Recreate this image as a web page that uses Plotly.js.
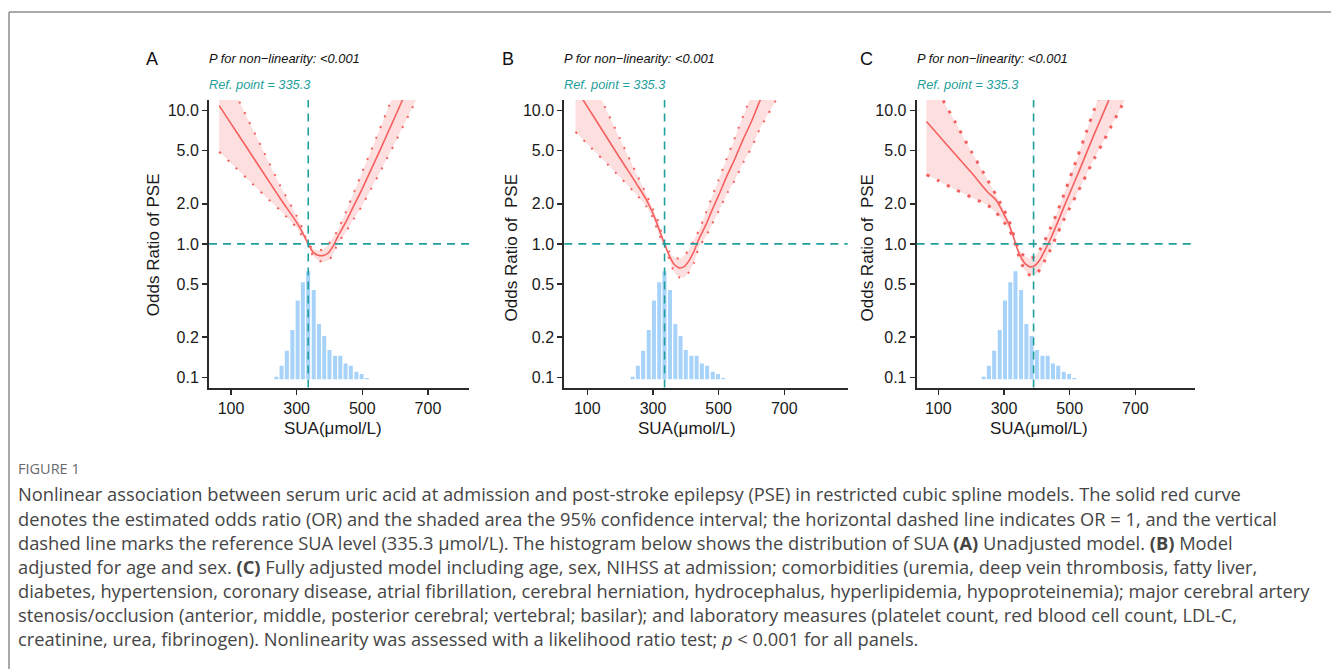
<!DOCTYPE html>
<html><head><meta charset="utf-8">
<script src="https://cdn.plot.ly/plotly-3.0.1.min.js"></script>
<style>html,body{margin:0;padding:0;background:#fff}#chart{width:1331px;height:669px}</style>
</head><body><div id="chart"></div>
<script>
const W = 1331, H = 669;

// ---------- data ----------
const panelLetters = ['A', 'B', 'C'];
const pText = 'P for non\u2212linearity: &lt;0.001';
const refText = 'Ref. point = 335.3';
const refX = [335.3, 335.3, 390];          // vertical dashed line positions as drawn
const refOR = 1;                            // horizontal dashed line
const xTitle = 'SUA(\u03bcmol/L)';
const yTitles = ['Odds Ratio of PSE', 'Odds Ratio of\u00a0\u00a0PSE', 'Odds Ratio of\u00a0\u00a0PSE'];
const xTickVals = [100, 300, 500, 700];
const yTickVals = [0.1, 0.2, 0.5, 1, 2, 5, 10];
const yTickText = ['0.1', '0.2', '0.5', '1.0', '2.0', '5.0', '10.0'];

// histogram of SUA (bar centres and top heights on the OR scale)
const histX = [238, 254, 270, 287, 303, 319, 335, 352, 368, 384, 400, 417, 433, 449, 465, 482, 498, 514];
const histTop = [0.101, 0.122, 0.158, 0.226, 0.376, 0.516, 0.624, 0.452, 0.251, 0.204, 0.160, 0.145, 0.145, 0.127, 0.122, 0.110, 0.106, 0.099];
const histBase = 0.0966;

// Panel A: unadjusted
const xA = [64, 100, 150, 200, 250, 300, 320, 335, 350, 365, 380, 395, 410, 425, 450, 475, 500, 525, 550, 575, 600, 625, 650, 675];
const orA = [10.89, 7.98, 5.19, 3.37, 2.19, 1.45, 1.19, 1.0, 0.867, 0.822, 0.817, 0.851, 0.955, 1.13, 1.46, 1.95, 2.60, 3.53, 4.79, 6.58, 9.02, 12.4, 17.0, 23.3];
const upA = [23.8, 15.7, 8.75, 4.89, 2.73, 1.62, 1.26, 1.0, 0.923, 0.891, 0.912, 0.977, 1.11, 1.26, 1.74, 2.45, 3.47, 4.90, 6.92, 9.89, 14.1, 20.0, 28.2, 39.8];
const loA = [4.90, 4.03, 3.07, 2.33, 1.78, 1.32, 1.12, 1.0, 0.813, 0.759, 0.733, 0.750, 0.822, 1.01, 1.23, 1.55, 1.95, 2.54, 3.31, 4.37, 5.75, 7.67, 10.2, 13.6];

// Panel B: adjusted for age and sex
const xB = [64, 100, 150, 200, 250, 280, 300, 320, 335, 350, 365, 380, 395, 410, 425, 440, 460, 480, 500, 525, 550, 575, 600, 625, 650, 675, 700];
const orB = [14.8, 10.7, 6.84, 4.37, 2.82, 2.14, 1.69, 1.26, 1.0, 0.813, 0.700, 0.661, 0.676, 0.750, 0.881, 1.09, 1.37, 1.79, 2.31, 3.22, 4.37, 6.10, 8.27, 11.7, 15.8, 21.6, 29.9];
const upB = [30.9, 20.2, 11.1, 6.10, 3.35, 2.34, 1.82, 1.38, 1.0, 0.871, 0.794, 0.776, 0.813, 0.912, 1.07, 1.26, 1.68, 2.26, 3.02, 4.37, 6.31, 9.12, 13.0, 18.8, 26.9, 38.9, 56.2];
const loB = [6.92, 5.62, 4.22, 3.16, 2.34, 1.91, 1.57, 1.15, 1.0, 0.759, 0.617, 0.562, 0.562, 0.617, 0.724, 0.944, 1.12, 1.41, 1.76, 2.37, 3.02, 4.07, 5.25, 7.24, 9.33, 12.0, 15.8];

// Panel C: fully adjusted
const xC = [64, 100, 150, 200, 250, 275, 290, 300, 315, 325, 335, 345, 355, 365, 380, 395, 410, 425, 440, 460, 480, 500, 525, 550, 575, 600, 625, 650, 675, 700];
const orC = [8.26, 6.55, 4.74, 3.44, 2.45, 2.14, 1.86, 1.66, 1.40, 1.20, 1.01, 0.861, 0.767, 0.708, 0.673, 0.692, 0.767, 0.902, 1.07, 1.39, 1.83, 2.40, 3.35, 4.73, 6.68, 9.28, 13.0, 18.1, 25.6, 35.7];
const upC = [20.0, 13.8, 8.32, 4.95, 3.02, 2.34, 2.00, 1.80, 1.50, 1.26, 1.05, 0.912, 0.841, 0.804, 0.776, 0.813, 0.912, 1.07, 1.29, 1.68, 2.26, 3.09, 4.57, 6.84, 10.2, 15.1, 22.4, 33.1, 50.1, 74.1];
const loC = [3.30, 2.98, 2.57, 2.24, 1.95, 1.72, 1.58, 1.46, 1.29, 1.15, 0.977, 0.813, 0.700, 0.624, 0.582, 0.589, 0.646, 0.759, 0.891, 1.15, 1.48, 1.86, 2.45, 3.27, 4.37, 5.69, 7.50, 9.89, 13.0, 17.2];

const captionHead = 'FIGURE 1';
const captionLines = [
  'Nonlinear association between serum uric acid at admission and post-stroke epilepsy (PSE) in restricted cubic spline models. The solid red curve',
  'denotes the estimated odds ratio (OR) and the shaded area the 95% confidence interval; the horizontal dashed line indicates OR = 1, and the vertical',
  'dashed line marks the reference SUA level (335.3 \u03bcmol/L). The histogram below shows the distribution of SUA <b>(A)</b> Unadjusted model. <b>(B)</b> Model',
  'adjusted for age and sex. <b>(C)</b> Fully adjusted model including age, sex, NIHSS at admission; comorbidities (uremia, deep vein thrombosis, fatty liver,',
  'diabetes, hypertension, coronary disease, atrial fibrillation, cerebral herniation, hydrocephalus, hyperlipidemia, hypoproteinemia); major cerebral artery',
  'stenosis/occlusion (anterior, middle, posterior cerebral; vertebral; basilar); and laboratory measures (platelet count, red blood cell count, LDL-C,',
  'creatinine, urea, fibrinogen). Nonlinearity was assessed with a likelihood ratio test; <i>p</i> &lt; 0.001 for all panels.'
];

// ---------- styling / geometry ----------
const RED = '#F5605F', FILL = 'rgba(245,96,95,0.2)', TEAL = '#1F9F9B', BLUE = '#A7D3FA', AX = '#2a2a2a';
const FONT = 'Liberation Sans, Arial, Helvetica, sans-serif';
const curves = [[xA, orA, upA, loA], [xB, orB, upB, loB], [xC, orC, upC, loC]];
// plot boxes in pixels: [left, right], top, bottom
const boxes = [[209, 469], [564.3, 847.7], [916.7, 1195]];
const xRanges = [[33, 825], [29.9, 893.2], [34.2, 881.4]];
const topPx = 100, botPx = 387.5;
const yRange = [-1.0765, 1.0788];
const dotPat = ['2px,9.5px', '2px,9.3px', '3px,8.5px'];
const dotW = [2, 2, 3];
const yTitleX = [153.7, 511.7, 867], yTitleY = [244.5, 247.7, 247.5];
const xTitleX = [333.3, 687, 1039.2];
const letterX = [152, 508, 866];

const px = v => v / W, py = v => 1 - v / H;

const traces = [];
const layout = {
  width: W, height: H, autosize: false,
  margin: {l: 0, r: 0, t: 0, b: 0, pad: 0},
  paper_bgcolor: '#fff', plot_bgcolor: 'rgba(0,0,0,0)',
  showlegend: false, hovermode: false,
  font: {family: FONT, color: '#1a1a1a'},
  shapes: [], annotations: []
};

for (let i = 0; i < 3; i++) {
  const xa = i === 0 ? 'x' : 'x' + (i + 1), ya = i === 0 ? 'y' : 'y' + (i + 1);
  const [xs, orv, up, lo] = curves[i];
  traces.push({type: 'bar', x: histX, y: histTop.map(t => t - histBase), base: histBase, width: 12.2,
    marker: {color: BLUE, line: {width: 0}}, xaxis: xa, yaxis: ya});
  traces.push({type: 'scatter', mode: 'lines', x: xs, y: lo, xaxis: xa, yaxis: ya,
    line: {color: RED, width: dotW[i], dash: dotPat[i], shape: 'spline', smoothing: 0.8}});
  traces.push({type: 'scatter', mode: 'lines', x: xs, y: up, xaxis: xa, yaxis: ya, fill: 'tonexty', fillcolor: FILL,
    line: {color: RED, width: dotW[i], dash: dotPat[i], shape: 'spline', smoothing: 0.8}});
  traces.push({type: 'scatter', mode: 'lines', x: xs, y: orv, xaxis: xa, yaxis: ya,
    line: {color: RED, width: 1.6, shape: 'spline', smoothing: 0.8}});

  const xk = i === 0 ? 'xaxis' : 'xaxis' + (i + 1), yk = i === 0 ? 'yaxis' : 'yaxis' + (i + 1);
  layout[xk] = {domain: [px(boxes[i][0]), px(boxes[i][1])], anchor: ya, range: xRanges[i],
    tickvals: xTickVals, ticks: 'outside', ticklen: 5, tickwidth: 1.5, tickcolor: AX,
    showline: true, linecolor: AX, linewidth: 2, showgrid: false, zeroline: false,
    tickfont: {size: 16, family: FONT, color: '#1a1a1a'}, fixedrange: true};
  layout[yk] = {domain: [py(botPx), py(topPx)], anchor: xa, type: 'log', range: yRange,
    tickvals: yTickVals, ticktext: yTickText, ticks: 'outside', ticklen: 5, tickwidth: 1.5, tickcolor: AX,
    showline: true, linecolor: AX, linewidth: 2, showgrid: false, zeroline: false,
    tickfont: {size: 16, family: FONT, color: '#1a1a1a'}, fixedrange: true};

  // reference lines
  layout.shapes.push({type: 'line', xref: xa, yref: ya + ' domain', x0: refX[i], x1: refX[i], y0: 0, y1: 1,
    line: {color: TEAL, width: 1.6, dash: '8px,6px'}});
  layout.shapes.push({type: 'line', xref: xa + ' domain', yref: ya, x0: 0, x1: 1, y0: refOR, y1: refOR,
    line: {color: TEAL, width: 1.6, dash: '8px,6px'}});

  // texts
  layout.annotations.push({xref: 'paper', yref: 'paper', x: px(letterX[i]), y: py(59), text: panelLetters[i],
    showarrow: false, xanchor: 'center', yanchor: 'middle', font: {size: 18, family: FONT, color: '#111'}});
  layout.annotations.push({xref: 'paper', yref: 'paper', x: px(boxes[i][0] - 2), y: py(59), text: '<i>' + pText + '</i>',
    showarrow: false, xanchor: 'left', yanchor: 'middle', font: {size: 12.9, family: FONT, color: '#111'}});
  layout.annotations.push({xref: 'paper', yref: 'paper', x: px(boxes[i][0] - 2), y: py(84), text: '<i>' + refText + '</i>',
    showarrow: false, xanchor: 'left', yanchor: 'middle', font: {size: 12.8, family: FONT, color: TEAL}});
  layout.annotations.push({xref: 'paper', yref: 'paper', x: px(xTitleX[i]), y: py(428), text: xTitle,
    showarrow: false, xanchor: 'center', yanchor: 'middle', font: {size: 17, family: FONT, color: '#1a1a1a'}});
  layout.annotations.push({xref: 'paper', yref: 'paper', x: px(yTitleX[i]), y: py(yTitleY[i]), text: yTitles[i],
    textangle: -90, showarrow: false, xanchor: 'center', yanchor: 'middle', font: {size: 17, family: FONT, color: '#1a1a1a'}});
}

// frame
layout.shapes.push({type: 'line', xref: 'paper', yref: 'paper', x0: px(9), x1: 1, y0: py(12), y1: py(12), line: {color: '#8c8c8c', width: 1.5}});
layout.shapes.push({type: 'line', xref: 'paper', yref: 'paper', x0: px(9), x1: px(9), y0: 0, y1: py(12), line: {color: '#8c8c8c', width: 1.5}});

// caption
const CAPFONT = 'Open Sans, Noto Sans, sans-serif';
layout.annotations.push({xref: 'paper', yref: 'paper', x: px(16), y: py(468), text: captionHead, showarrow: false,
  xanchor: 'left', yanchor: 'middle', font: {size: 14.5, family: CAPFONT, color: '#6a6a6a'}});
captionLines.forEach((t, k) => {
  layout.annotations.push({xref: 'paper', yref: 'paper', x: px(16), y: py(494 + 24 * k), text: t, showarrow: false,
    xanchor: 'left', yanchor: 'middle', font: {size: 18.3, family: CAPFONT, color: '#454545'}});
});

Plotly.newPlot('chart', traces, layout, {staticPlot: true, displayModeBar: false});
</script></body></html>
